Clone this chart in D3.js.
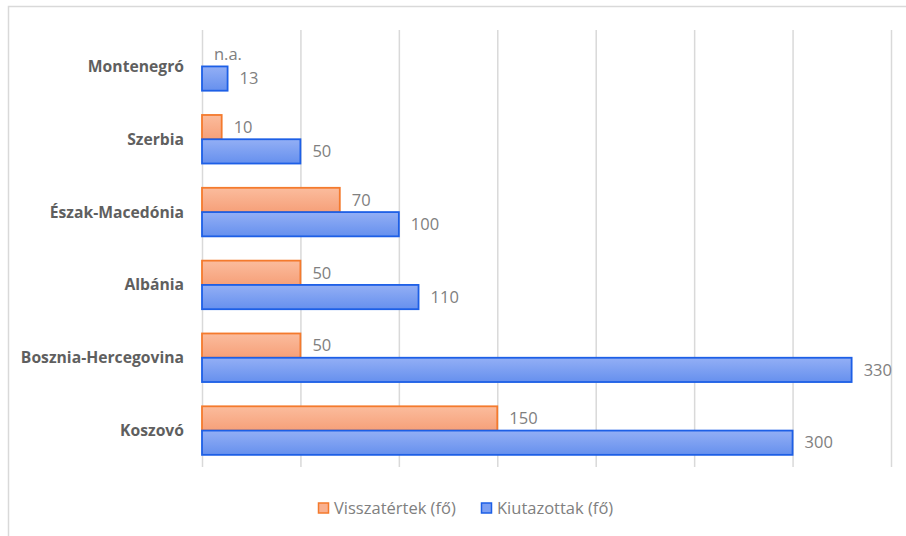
<!DOCTYPE html>
<html>
<head>
<meta charset="utf-8">
<script src="https://cdn.jsdelivr.net/npm/d3@7"></script>
<style>
  body { margin: 0; background: #fff; }
  svg { display: block; font-family: "Open Sans", sans-serif; }
</style>
</head>
<body>
<div id="chart"></div>
<script>
// data
var categories = ["Montenegró", "Szerbia", "Észak-Macedónia", "Albánia", "Bosznia-Hercegovina", "Koszovó"];
var visszatertek = [null, 10, 70, 50, 50, 150];
var kiutazottak = [13, 50, 100, 110, 330, 300];
var seriesNames = ["Visszatértek (fő)", "Kiutazottak (fő)"];
var xTicks = [0, 50, 100, 150, 200, 250, 300, 350];

var W = 906, H = 536;
var margin = {top: 30, left: 202, right: 15, bottom: 69};

var svg = d3.select("#chart").append("svg")
    .attr("width", W)
    .attr("height", H);

svg.append("rect").attr("width", W).attr("height", H).attr("fill", "#fff");
// chart frame (runs off right/bottom edges)
svg.append("rect")
    .attr("x", 8.5).attr("y", 6.5)
    .attr("width", W + 10).attr("height", H + 10)
    .attr("fill", "none").attr("stroke", "#d9d9d9").attr("stroke-width", 1.5);

var defs = svg.append("defs");
function grad(id, top, bottom) {
  var g = defs.append("linearGradient").attr("id", id)
      .attr("x1", 0).attr("y1", 0).attr("x2", 0).attr("y2", 1);
  g.append("stop").attr("offset", "0%").attr("stop-color", top);
  g.append("stop").attr("offset", "100%").attr("stop-color", bottom);
}
grad("gOrange", "#fbbc9d", "#f6a079");
grad("gBlue", "#93aff5", "#6690ee");

var colors = [
  {fill: "url(#gOrange)", stroke: "#f47a2d", legend: "#f9b08f"},
  {fill: "url(#gBlue)", stroke: "#1d5fe6", legend: "#7c9ff2"}
];

var x = d3.scaleLinear().domain([0, 350]).range([margin.left, 891]);
var y = d3.scaleBand().domain(categories)
    .range([margin.top, 467])
    .paddingInner(1 / 3).paddingOuter(1 / 6);
var sub = d3.scaleBand().domain([0, 1]).range([0, y.bandwidth()]);

// gridlines
svg.append("g")
    .attr("transform", "translate(0,467)")
    .call(d3.axisBottom(x).tickValues(xTicks).tickSize(-(467 - margin.top)).tickFormat(""))
    .call(function(g) {
      g.select(".domain").remove();
      g.selectAll(".tick line").attr("stroke", "#d9d9d9").attr("stroke-width", 1.5);
    });

var rows = categories.map(function(c, i) {
  return {cat: c, vals: [visszatertek[i], kiutazottak[i]]};
});

var groups = svg.selectAll(".row").data(rows).enter().append("g")
    .attr("class", "row")
    .attr("transform", function(d) { return "translate(0," + y(d.cat) + ")"; });

groups.selectAll("rect.bar")
    .data(function(d) { return d.vals.map(function(v, k) { return {v: v, k: k}; }); })
    .enter().append("rect")
    .attr("class", "bar")
    .filter(function(d) { return d.v != null; })
    .attr("x", x(0))
    .attr("y", function(d) { return sub(d.k); })
    .attr("width", function(d) { return x(d.v) - x(0); })
    .attr("height", sub.bandwidth())
    .attr("fill", function(d) { return colors[d.k].fill; })
    .attr("stroke", function(d) { return colors[d.k].stroke; })
    .attr("stroke-width", 1.8);

groups.selectAll("text.val")
    .data(function(d) { return d.vals.map(function(v, k) { return {v: v, k: k}; }); })
    .enter().append("text")
    .attr("class", "val")
    .attr("x", function(d) { return x(d.v == null ? 0 : d.v) + 12; })
    .attr("y", function(d) { return sub(d.k) + sub.bandwidth() / 2; })
    .attr("dy", "0.35em")
    .attr("font-size", 16.5)
    .attr("fill", "#808080")
    .text(function(d) { return d.v == null ? "n.a." : d.v; });

// category labels
svg.append("g").selectAll("text").data(categories).enter().append("text")
    .attr("x", 184)
    .attr("y", function(d) { return y(d) + y.bandwidth() / 2; })
    .attr("dy", "0.35em")
    .attr("text-anchor", "end")
    .attr("font-size", 15.7)
    .attr("font-weight", "bold")
    .attr("fill", "#5f5f5f")
    .text(function(d) { return d; });

// legend
var legendX = [318, 481];
var legend = svg.append("g").selectAll("g").data(seriesNames).enter().append("g")
    .attr("transform", function(d, i) { return "translate(" + legendX[i] + ",508)"; });
legend.append("rect")
    .attr("x", 0.5).attr("y", -5)
    .attr("width", 10).attr("height", 10)
    .attr("fill", function(d, i) { return colors[i].legend; })
    .attr("stroke", function(d, i) { return colors[i].stroke; })
    .attr("stroke-width", 1.5);
legend.append("text")
    .attr("x", 16).attr("dy", "0.35em")
    .attr("font-size", 16.5)
    .attr("fill", "#808080")
    .text(function(d) { return d; });
</script>
</body>
</html>
